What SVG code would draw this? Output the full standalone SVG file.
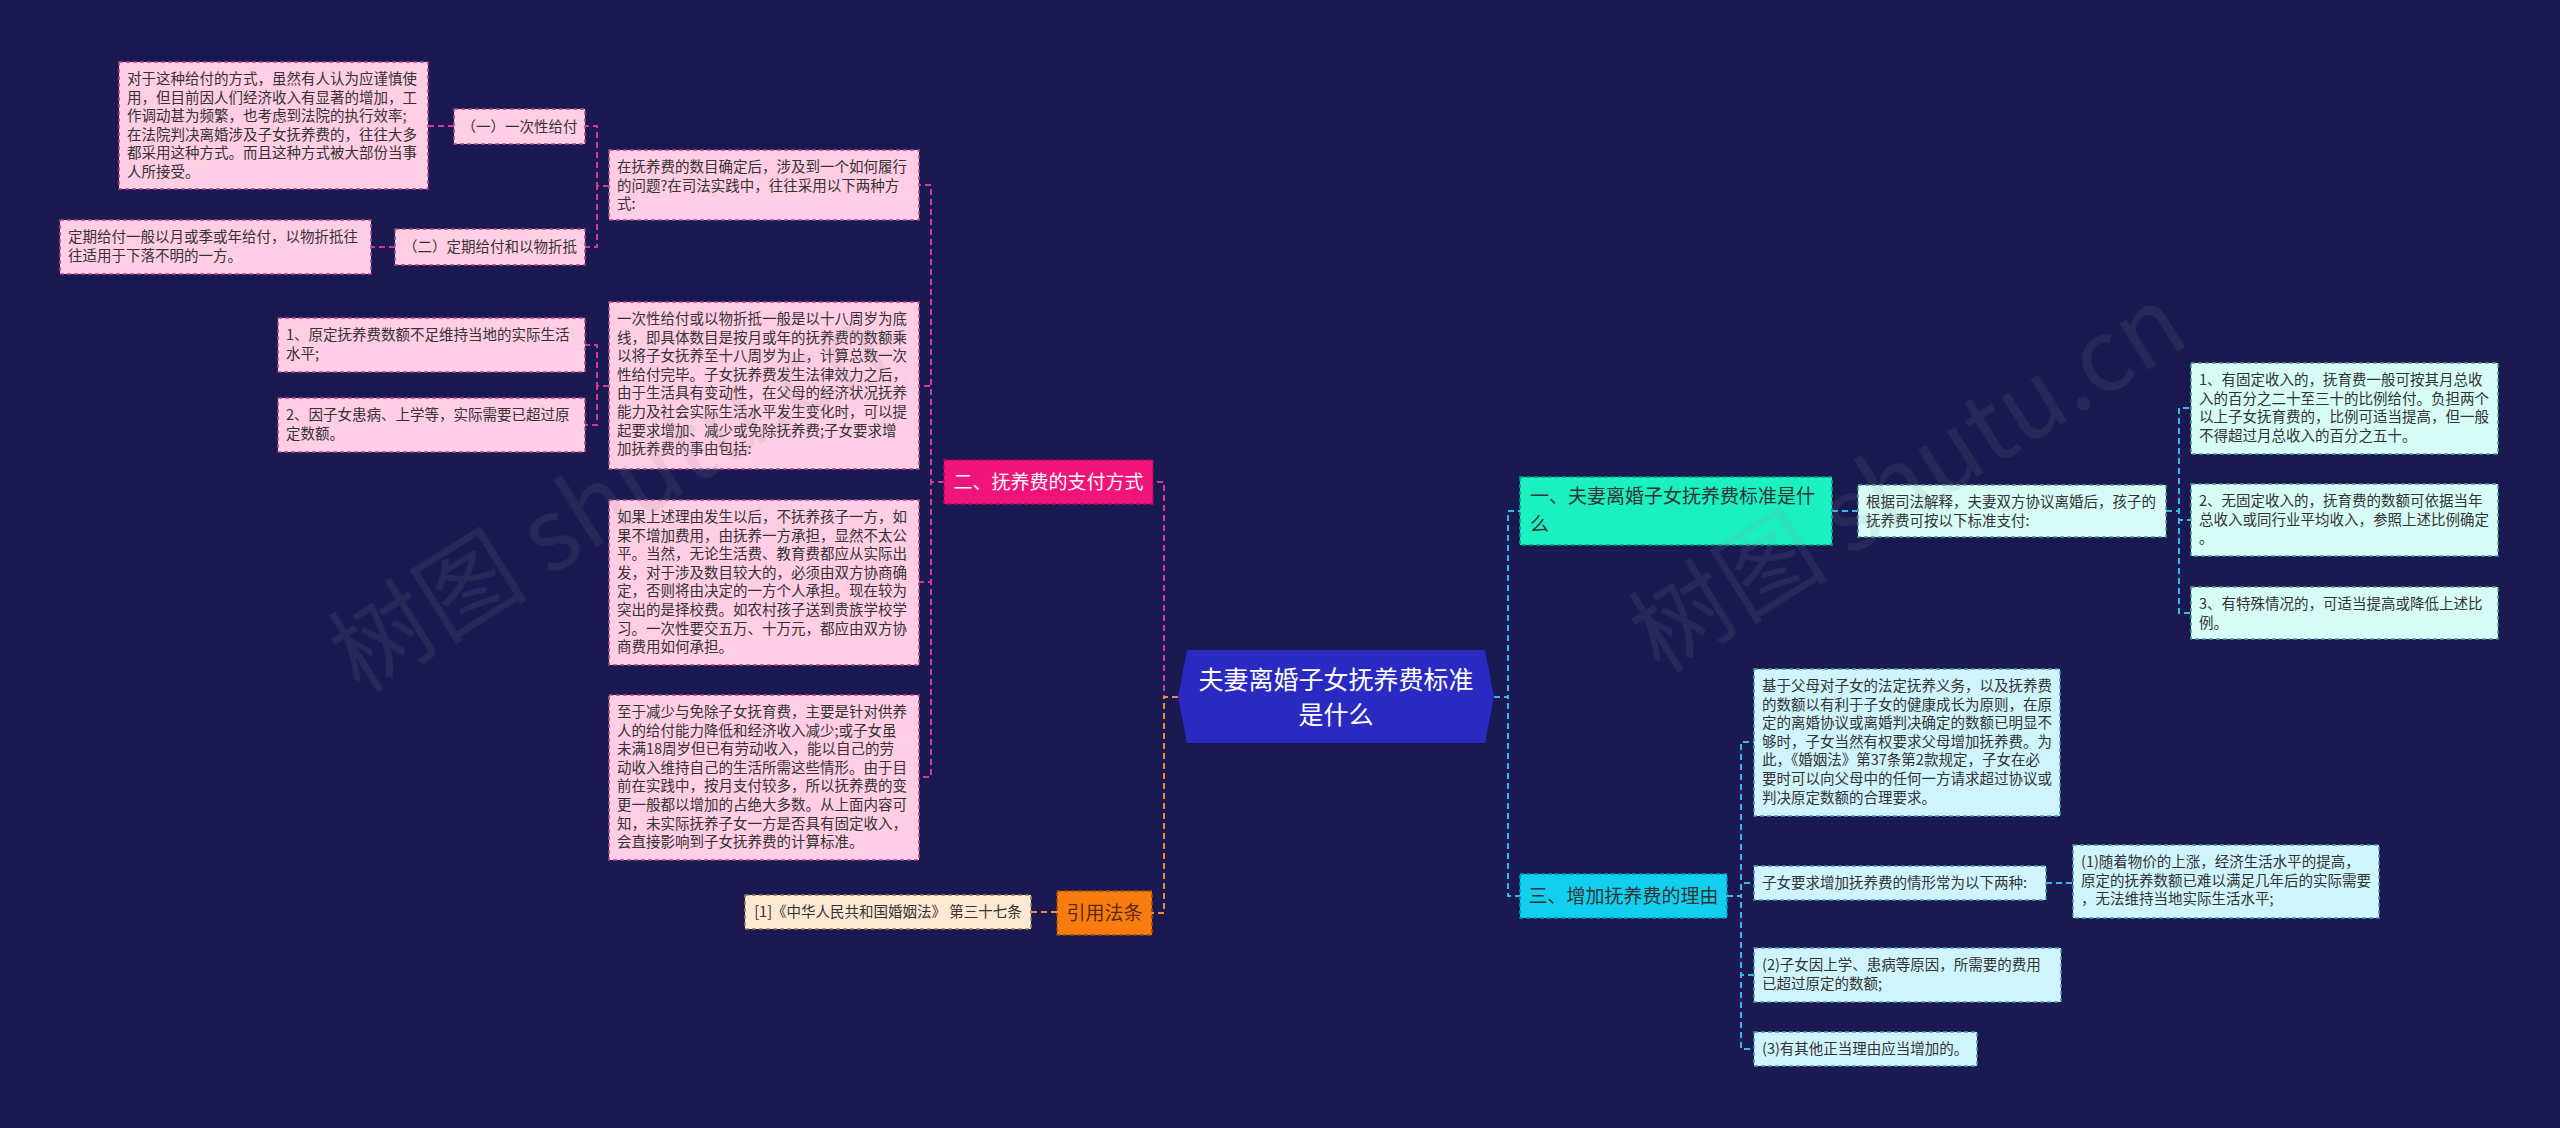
<svg xmlns="http://www.w3.org/2000/svg" width="2560" height="1128" viewBox="0 0 2560 1128">
<style>
text{font-family:"Noto Sans CJK SC","Noto Sans",sans-serif;}
.t{font-size:14.5px;fill:#333333;}
.pk{fill:#ffcde4;stroke:#b04a82;stroke-width:1.5;stroke-dasharray:4 3;}
.mt{fill:#d6fcf5;stroke:#4a9e90;stroke-width:1.5;stroke-dasharray:4 3;}
.cy{fill:#d0f4fb;stroke:#4a98b0;stroke-width:1.5;stroke-dasharray:4 3;}
.lw{fill:#fde8d2;stroke:#a07a5a;stroke-width:1.5;stroke-dasharray:4 3;}
.sec{font-size:19px;}
.c{fill:none;stroke-width:2;stroke-dasharray:6 4;}
.cp{stroke:#d23c98;}
.co{stroke:#f08a3c;}
.cc{stroke:#38b8e4;}
.wm{font-size:100px;fill:#8a8a9a;opacity:0.12;}
</style>
<rect x="0" y="0" width="2560" height="1128" fill="#1a1951"/>
<g id="connectors">
<path class="c cp" d="M1178,697 H1164 V482 H1153"/>
<path class="c cp" d="M944,482 H931 V185 H919"/>
<path class="c cp" d="M944,482 H931 V386 H919"/>
<path class="c cp" d="M944,482 H931 V582 H919"/>
<path class="c cp" d="M944,482 H931 V777 H919"/>
<path class="c cp" d="M609,186 H597 V126 H585"/>
<path class="c cp" d="M609,186 H597 V247 H585"/>
<path class="c cp" d="M454,126 H428"/>
<path class="c cp" d="M395,247 H371"/>
<path class="c cp" d="M609,386 H597 V345 H585"/>
<path class="c cp" d="M609,386 H597 V425 H585"/>
<path class="c co" d="M1178,697 H1164 V913 H1152"/>
<path class="c co" d="M1057,912 H1031"/>
<path class="c cc" d="M1494,697 H1508 V511 H1520"/>
<path class="c cc" d="M1494,697 H1508 V896 H1520"/>
<path class="c cc" d="M1832,511 H1858"/>
<path class="c cc" d="M2166,511 H2179 V408 H2191"/>
<path class="c cc" d="M2166,511 H2179 V520 H2191"/>
<path class="c cc" d="M2166,511 H2179 V613 H2191"/>
<path class="c cc" d="M1727,896 H1741 V742 H1754"/>
<path class="c cc" d="M1727,896 H1741 V883 H1754"/>
<path class="c cc" d="M1727,896 H1741 V975 H1754"/>
<path class="c cc" d="M1727,896 H1741 V1049 H1754"/>
<path class="c cc" d="M2046,883 H2073"/>
</g>
<g id="root">
<polygon points="1178,697 1187,650 1485,650 1494,697 1485,743 1187,743" fill="#2a2ac2"/>
<text x="1336" y="689" font-size="25" fill="#ffffff" text-anchor="middle">夫妻离婚子女抚养费标准<tspan x="1336" dy="35">是什么</tspan></text>
</g>
<g id="sec2">
<rect x="944" y="460" width="209" height="44" fill="#f0147a" stroke="#b00a55" stroke-width="1.5" stroke-dasharray="4 3"/>
<text class="sec" x="1048.5" y="488.5" fill="#ffffff" text-anchor="middle">二、抚养费的支付方式</text>
</g>
<g id="n2a">
<rect class="pk" x="609" y="150" width="310" height="70"/>
<text class="t" x="617" y="172">在抚养费的数目确定后，涉及到一个如何履行<tspan x="617" dy="18.6">的问题?在司法实践中，往往采用以下两种方</tspan><tspan x="617" dy="18.6">式:</tspan></text>
</g>
<g id="n2a1">
<rect class="pk" x="454" y="109" width="131" height="35"/>
<text class="t" x="519.5" y="131.5" text-anchor="middle">（一）一次性给付</text>
</g>
<g id="n2a1a">
<rect class="pk" x="119" y="62" width="309" height="127"/>
<text class="t" x="127" y="84">对于这种给付的方式，虽然有人认为应谨慎使<tspan x="127" dy="18.6">用，但目前因人们经济收入有显著的增加，工</tspan><tspan x="127" dy="18.6">作调动甚为频繁，也考虑到法院的执行效率;</tspan><tspan x="127" dy="18.6">在法院判决离婚涉及子女抚养费的，往往大多</tspan><tspan x="127" dy="18.6">都采用这种方式。而且这种方式被大部份当事</tspan><tspan x="127" dy="18.6">人所接受。</tspan></text>
</g>
<g id="n2a2">
<rect class="pk" x="395" y="229" width="190" height="36"/>
<text class="t" x="490" y="252" text-anchor="middle">（二）定期给付和以物折抵</text>
</g>
<g id="n2a2a">
<rect class="pk" x="60" y="220" width="311" height="54"/>
<text class="t" x="68" y="242">定期给付一般以月或季或年给付，以物折抵往<tspan x="68" dy="18.6">往适用于下落不明的一方。</tspan></text>
</g>
<g id="n2b">
<rect class="pk" x="609" y="302" width="310" height="167"/>
<text class="t" x="617" y="324">一次性给付或以物折抵一般是以十八周岁为底<tspan x="617" dy="18.6">线，即具体数目是按月或年的抚养费的数额乘</tspan><tspan x="617" dy="18.6">以将子女抚养至十八周岁为止，计算总数一次</tspan><tspan x="617" dy="18.6">性给付完毕。子女抚养费发生法律效力之后，</tspan><tspan x="617" dy="18.6">由于生活具有变动性，在父母的经济状况抚养</tspan><tspan x="617" dy="18.6">能力及社会实际生活水平发生变化时，可以提</tspan><tspan x="617" dy="18.6">起要求增加、减少或免除抚养费;子女要求增</tspan><tspan x="617" dy="18.6">加抚养费的事由包括:</tspan></text>
</g>
<g id="n2b1">
<rect class="pk" x="278" y="318" width="307" height="54"/>
<text class="t" x="286" y="340">1、原定抚养费数额不足维持当地的实际生活<tspan x="286" dy="18.6">水平;</tspan></text>
</g>
<g id="n2b2">
<rect class="pk" x="278" y="398" width="307" height="54"/>
<text class="t" x="286" y="420">2、因子女患病、上学等，实际需要已超过原<tspan x="286" dy="18.6">定数额。</tspan></text>
</g>
<g id="n2c">
<rect class="pk" x="609" y="500" width="310" height="165"/>
<text class="t" x="617" y="522">如果上述理由发生以后，不抚养孩子一方，如<tspan x="617" dy="18.6">果不增加费用，由抚养一方承担，显然不太公</tspan><tspan x="617" dy="18.6">平。当然，无论生活费、教育费都应从实际出</tspan><tspan x="617" dy="18.6">发，对于涉及数目较大的，必须由双方协商确</tspan><tspan x="617" dy="18.6">定，否则将由决定的一方个人承担。现在较为</tspan><tspan x="617" dy="18.6">突出的是择校费。如农村孩子送到贵族学校学</tspan><tspan x="617" dy="18.6">习。一次性要交五万、十万元，都应由双方协</tspan><tspan x="617" dy="18.6">商费用如何承担。</tspan></text>
</g>
<g id="n2d">
<rect class="pk" x="609" y="695" width="310" height="165"/>
<text class="t" x="617" y="717">至于减少与免除子女抚育费，主要是针对供养<tspan x="617" dy="18.6">人的给付能力降低和经济收入减少;或子女虽</tspan><tspan x="617" dy="18.6">未满18周岁但已有劳动收入，能以自己的劳</tspan><tspan x="617" dy="18.6">动收入维持自己的生活所需这些情形。由于目</tspan><tspan x="617" dy="18.6">前在实践中，按月支付较多，所以抚养费的变</tspan><tspan x="617" dy="18.6">更一般都以增加的占绝大多数。从上面内容可</tspan><tspan x="617" dy="18.6">知，未实际抚养子女一方是否具有固定收入，</tspan><tspan x="617" dy="18.6">会直接影响到子女抚养费的计算标准。</tspan></text>
</g>
<g id="law">
<rect x="1057" y="891" width="95" height="44" fill="#f97c10" stroke="#a04a00" stroke-width="1.5" stroke-dasharray="4 3"/>
<text class="sec" x="1104.5" y="919.5" fill="#5a2a0a" text-anchor="middle">引用法条</text>
</g>
<g id="law1">
<rect class="lw" x="745" y="895" width="286" height="34"/>
<text class="t" x="888" y="917" text-anchor="middle">[1]《中华人民共和国婚姻法》 第三十七条</text>
</g>
<g id="sec1">
<rect x="1520" y="477" width="312" height="68" fill="#1af0c0" stroke="#0a9e80" stroke-width="1.5" stroke-dasharray="4 3"/>
<text class="sec" x="1530" y="503" fill="#333333">一、夫妻离婚子女抚养费标准是什<tspan x="1530" dy="28">么</tspan></text>
</g>
<g id="n1a">
<rect class="mt" x="1858" y="485" width="308" height="52"/>
<text class="t" x="1866" y="507">根据司法解释，夫妻双方协议离婚后，孩子的<tspan x="1866" dy="18.6">抚养费可按以下标准支付:</tspan></text>
</g>
<g id="n1a1">
<rect class="mt" x="2191" y="363" width="307" height="91"/>
<text class="t" x="2199" y="385">1、有固定收入的，抚育费一般可按其月总收<tspan x="2199" dy="18.6">入的百分之二十至三十的比例给付。负担两个</tspan><tspan x="2199" dy="18.6">以上子女抚育费的，比例可适当提高，但一般</tspan><tspan x="2199" dy="18.6">不得超过月总收入的百分之五十。</tspan></text>
</g>
<g id="n1a2">
<rect class="mt" x="2191" y="484" width="307" height="72"/>
<text class="t" x="2199" y="506">2、无固定收入的，抚育费的数额可依据当年<tspan x="2199" dy="18.6">总收入或同行业平均收入，参照上述比例确定</tspan><tspan x="2199" dy="18.6">。</tspan></text>
</g>
<g id="n1a3">
<rect class="mt" x="2191" y="587" width="307" height="52"/>
<text class="t" x="2199" y="609">3、有特殊情况的，可适当提高或降低上述比<tspan x="2199" dy="18.6">例。</tspan></text>
</g>
<g id="sec3">
<rect x="1520" y="874" width="207" height="44" fill="#12cff0" stroke="#0890b8" stroke-width="1.5" stroke-dasharray="4 3"/>
<text class="sec" x="1623.5" y="902.5" fill="#333333" text-anchor="middle">三、增加抚养费的理由</text>
</g>
<g id="n3a">
<rect class="cy" x="1754" y="669" width="306" height="147"/>
<text class="t" x="1762" y="691">基于父母对子女的法定抚养义务，以及抚养费<tspan x="1762" dy="18.6">的数额以有利于子女的健康成长为原则，在原</tspan><tspan x="1762" dy="18.6">定的离婚协议或离婚判决确定的数额已明显不</tspan><tspan x="1762" dy="18.6">够时，子女当然有权要求父母增加抚养费。为</tspan><tspan x="1762" dy="18.6">此，《婚姻法》第37条第2款规定，子女在必</tspan><tspan x="1762" dy="18.6">要时可以向父母中的任何一方请求超过协议或</tspan><tspan x="1762" dy="18.6">判决原定数额的合理要求。</tspan></text>
</g>
<g id="n3b">
<rect class="cy" x="1754" y="866" width="292" height="34"/>
<text class="t" x="1762" y="888">子女要求增加抚养费的情形常为以下两种:</text>
</g>
<g id="n3b1">
<rect class="cy" x="2073" y="845" width="306" height="73"/>
<text class="t" x="2081" y="867">(1)随着物价的上涨，经济生活水平的提高，<tspan x="2081" dy="18.6">原定的抚养数额已难以满足几年后的实际需要</tspan><tspan x="2081" dy="18.6">，无法维持当地实际生活水平;</tspan></text>
</g>
<g id="n3c">
<rect class="cy" x="1754" y="948" width="307" height="54"/>
<text class="t" x="1762" y="970">(2)子女因上学、患病等原因，所需要的费用<tspan x="1762" dy="18.6">已超过原定的数额;</tspan></text>
</g>
<g id="n3d">
<rect class="cy" x="1754" y="1032" width="223" height="34"/>
<text class="t" x="1762" y="1054">(3)有其他正当理由应当增加的。</text>
</g>
<g id="watermark">
<text class="wm" x="360" y="695" transform="rotate(-32 360 695)">树图 shutu.cn</text>
<text class="wm" x="1660" y="675" transform="rotate(-32 1660 675)">树图 shutu.cn</text>
</g>
</svg>
